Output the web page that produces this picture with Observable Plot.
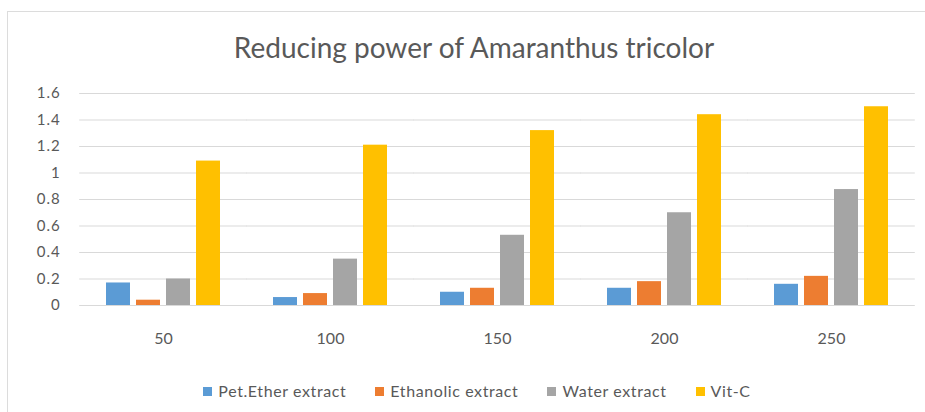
<!DOCTYPE html>
<html>
<head>
<meta charset="utf-8">
<script src="https://cdn.jsdelivr.net/npm/d3@7"></script>
<script src="https://cdn.jsdelivr.net/npm/@observablehq/plot@0.6"></script>
<style>
  html, body { margin: 0; padding: 0; background: #fff; width: 925px; height: 412px; overflow: hidden; }
  body { position: relative; font-family: Lato, "Open Sans", sans-serif; color: #595959; }
  #frame { position: absolute; left: 7px; top: 11px; width: 940px; height: 420px; border: 1.5px solid #dcdcdc; box-sizing: border-box; }
  #title { position: absolute; left: 0; top: 33px; width: 948px; text-align: center; font-size: 28px; line-height: 28px; color: #595959; }
  #chart { position: absolute; left: 0; top: 80px; }
  #legend { position: absolute; top: 381px; left: 0; width: 925px; display: flex; justify-content: center; gap: 29px; font-size: 16px; letter-spacing: 0.6px; line-height: 20px; color: #595959; padding-left: 29px; box-sizing: border-box; }
  .item { display: flex; align-items: center; gap: 6px; }
  .sw { width: 9px; height: 9px; display: inline-block; }
</style>
</head>
<body>
<div id="frame"></div>
<div id="title">Reducing power of Amaranthus tricolor</div>
<div id="chart"></div>
<div id="legend"></div>
<script>
const doses = ["50", "100", "150", "200", "250"];
const series = ["Pet.Ether extract", "Ethanolic extract", "Water extract", "Vit-C"];
const petEther = [0.17, 0.06, 0.10, 0.13, 0.16];
const ethanolic = [0.04, 0.09, 0.13, 0.18, 0.22];
const water = [0.20, 0.35, 0.53, 0.70, 0.875];
const vitC = [1.09, 1.21, 1.32, 1.44, 1.50];
const yTicks = [0, 0.2, 0.4, 0.6, 0.8, 1, 1.2, 1.4, 1.6];
const colors = ["#5B9BD5", "#ED7D31", "#A5A5A5", "#FFC000"];

const seriesValues = [petEther, ethanolic, water, vitC];
const data = [];
doses.forEach((d, i) => {
  series.forEach((s, j) => data.push({dose: d, series: s, value: seriesValues[j][i]}));
});

const W = 925, ML = 78, MR = 10;
const step = (W - ML - MR) / doses.length;
const pOuter = 0.16;
const ext = -pOuter * step;

const chart = Plot.plot({
  width: W,
  height: 270,
  marginLeft: ML,
  marginRight: MR,
  marginTop: 13,
  marginBottom: 45,
  style: {fontFamily: "Lato, 'Open Sans', sans-serif", fontSize: "16px", color: "#595959", background: "transparent"},
  fx: {domain: doses, paddingInner: 0.32, paddingOuter: pOuter, label: null, tickSize: 0, tickPadding: 27},
  x: {domain: series, paddingInner: 0.2, paddingOuter: 0, axis: null},
  y: {domain: [0, 1.6], ticks: yTicks, tickSize: 0, tickPadding: 19 - ext, label: null, tickFormat: d => String(d)},
  color: {domain: series, range: colors},
  marks: [
    Plot.ruleY(yTicks, {y: d => d, stroke: "#d9d9d9", strokeWidth: 1, insetLeft: ext, insetRight: ext}),
    Plot.barY(data, {fx: "dose", x: "series", y: "value", fill: "series"})
  ]
});
d3.select(chart).selectAll("[aria-label='y-axis tick label'] text, [aria-label='y-axis tick label']")
  .style("font-size", "15px").style("letter-spacing", "1px");
document.getElementById("chart").appendChild(chart);

const legend = document.getElementById("legend");
series.forEach((s, j) => {
  const it = document.createElement("div");
  it.className = "item";
  const sw = document.createElement("span");
  sw.className = "sw";
  sw.style.background = colors[j];
  const t = document.createElement("span");
  t.textContent = s;
  it.appendChild(sw); it.appendChild(t);
  legend.appendChild(it);
});
</script>
</body>
</html>
